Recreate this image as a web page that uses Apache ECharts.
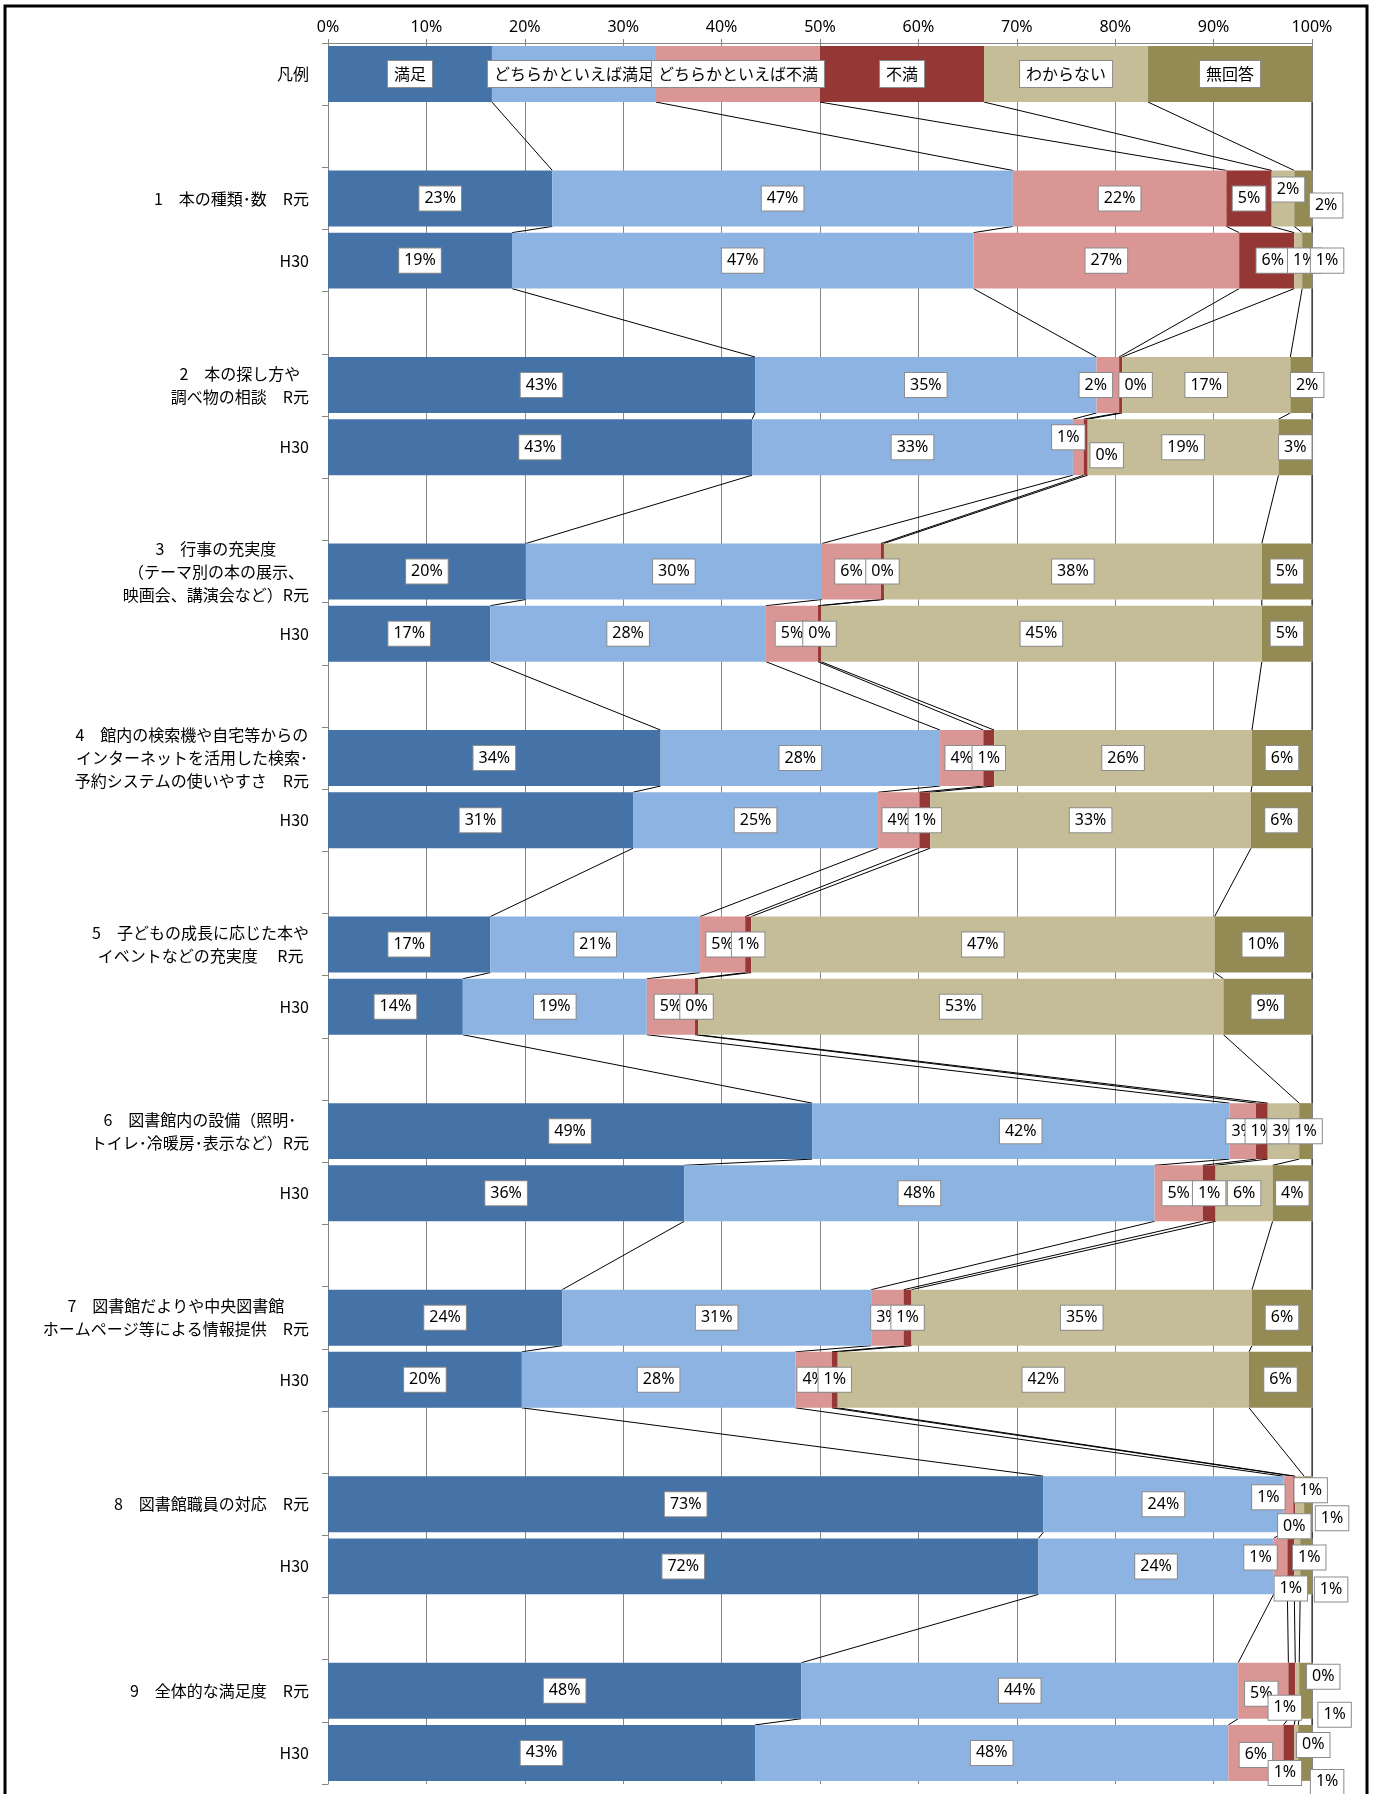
<!DOCTYPE html>
<html>
<head>
<meta charset="utf-8">
<script src="https://cdn.jsdelivr.net/npm/echarts@6/dist/echarts.min.js"></script>
<style>
  html, body { margin: 0; padding: 0; background: #fff; }
  #chart { width: 1376px; height: 1794px; }
</style>
</head>
<body>
<div id="chart"></div>
<script>
// 回答区分と色
const answerNames = ['満足', 'どちらかといえば満足', 'どちらかといえば不満', '不満', 'わからない', '無回答']
const answerColors = ['#4572A7', '#8DB3E2', '#DA9694', '#953735', '#C4BD97', '#948A54']

// 設問ラベル（R元の行）
const itemLabels = [
  '1　本の種類･数　R元',
  '2　本の探し方や\n調べ物の相談　R元',
  '3　行事の充実度\n（テーマ別の本の展示、\n映画会、講演会など）R元',
  '4　館内の検索機や自宅等からの\nインターネットを活用した検索･\n予約システムの使いやすさ　R元',
  '5　子どもの成長に応じた本や\nイベントなどの充実度　 R元',
  '6　図書館内の設備（照明･\nトイレ･冷暖房･表示など）R元',
  '7　図書館だよりや中央図書館\nホームページ等による情報提供　R元',
  '8　図書館職員の対応　R元',
  '9　全体的な満足度　R元'
]
const prevYearLabel = 'H30'
const legendLabel = '凡例'
const legendRow = [16.66, 16.67, 16.67, 16.67, 16.67, 16.66]

// 割合(%)  並び: 1 R元, 1 H30, 2 R元, 2 H30, ... 9 H30
const satisfied        = [22.8, 18.7, 43.4, 43.1, 20.1, 16.5, 33.8, 31.0, 16.5, 13.7, 49.2, 36.2, 23.8, 19.7, 72.7, 72.2, 48.1, 43.4]
const ratherSatisfied  = [46.8, 46.9, 34.7, 32.6, 30.1, 28.0, 28.4, 24.9, 21.3, 18.7, 42.4, 47.8, 31.4, 27.8, 24.4, 23.9, 44.4, 48.1]
const ratherUnsatisfied = [21.7, 27.0, 2.3, 1.1, 6.0, 5.3, 4.4, 4.2, 4.6, 4.9, 2.7, 4.9, 3.3, 3.7, 1.0, 1.4, 5.1, 5.6]
const unsatisfied      = [4.6, 5.6, 0.3, 0.4, 0.3, 0.3, 1.1, 1.1, 0.6, 0.3, 1.2, 1.3, 0.8, 0.6, 0.2, 0.7, 0.7, 1.1]
const unknown          = [2.3, 0.8, 17.1, 19.4, 38.4, 44.8, 26.2, 32.6, 47.1, 53.4, 3.2, 5.8, 34.6, 41.8, 0.9, 0.6, 0.4, 0.4]
const noAnswer         = [1.8, 1.0, 2.2, 3.4, 5.1, 5.1, 6.1, 6.2, 9.9, 9.0, 1.3, 4.0, 6.1, 6.4, 0.8, 1.2, 1.3, 1.4]
const answerValues = [satisfied, ratherSatisfied, ratherUnsatisfied, unsatisfied, unknown, noAnswer]

// 重なる小さいラベルのずらし（行: {系列: [dx, dy]}）
const labelShift = {
  '1R': { 4: [5, -9], 5: [23, 7] },
  '1H': { 3: [6, 0], 4: [6, 0], 5: [20, 0] },
  '2R': { 2: [-12, 0], 3: [15, 0], 5: [6, 0] },
  '2H': { 2: [-10, -10], 3: [21, 8] },
  '8R': { 2: [-20, -7], 3: [0, 22], 4: [11, -14], 5: [24, 14] },
  '8H': { 2: [-20, -9], 3: [0, 22], 4: [12, -9], 5: [25, 23] },
  '9R': { 2: [-2, 3], 3: [-7, 17], 4: [26, -14], 5: [29, 24] },
  '9H': { 2: [0, 2], 3: [-4, 20], 4: [17, -8], 5: [22, 29] }
}

// カテゴリ（空行で区切る）
const categories = [legendLabel, '']
const rowOf = []   // データ index -> カテゴリ index
itemLabels.forEach((label, k) => {
  rowOf.push(categories.length); categories.push(label)
  rowOf.push(categories.length); categories.push(prevYearLabel)
  if (k < itemLabels.length - 1) categories.push('')
})
const barRows = [0].concat(rowOf)

const shiftByRow = {}
Object.keys(labelShift).forEach(key => {
  const k = parseInt(key) - 1
  const row = rowOf[k * 2 + (key.endsWith('H') ? 1 : 0)]
  shiftByRow[row] = labelShift[key]
})

const labelFont = '"Noto Sans", "Noto Sans CJK JP", sans-serif'
const cjkFont = '"Noto Sans CJK JP", sans-serif'

const barSeries = answerNames.map((name, s) => {
  const data = categories.map(() => null)
  data[0] = { value: legendRow[s], label: { fontFamily: cjkFont, fontSize: 16, padding: [5, 6] } }
  answerValues[s].forEach((v, i) => {
    const row = rowOf[i]
    const shift = shiftByRow[row] && shiftByRow[row][s]
    data[row] = shift ? { value: v, label: { offset: shift } } : v
  })
  return {
    name,
    type: 'bar',
    stack: 'total',
    barCategoryGap: '10%',
    itemStyle: { color: answerColors[s] },
    label: {
      show: true,
      position: 'inside',
      color: '#000',
      fontSize: 16,
      fontFamily: labelFont,
      backgroundColor: '#fff',
      borderColor: '#8c8c8c',
      borderWidth: 1,
      padding: [4, 5],
      formatter: p => (p.dataIndex === 0 ? p.seriesName : Math.round(p.value) + '%')
    },
    data
  }
})

// 系列線（隣り合う棒の区切り位置を結ぶ）
const cumulative = {}
barRows.forEach(row => {
  let sum = 0
  cumulative[row] = answerNames.map((_, s) => {
    const d = barSeries[s].data[row]
    sum += typeof d === 'object' ? d.value : d
    return sum
  })
})
const connectorData = []
for (let r = 0; r < barRows.length - 1; r++) {
  const a = barRows[r], b = barRows[r + 1]
  answerNames.forEach((_, s) => {
    connectorData.push([Math.min(cumulative[a][s], 100), a, Math.min(cumulative[b][s], 100), b])
  })
}

const chart = echarts.init(document.getElementById('chart'))
chart.setOption({
  animation: false,
  backgroundColor: '#fff',
  graphic: [{
    type: 'rect',
    shape: { x: 5, y: 6, width: 1362, height: 1800 },
    style: { fill: 'none', stroke: '#000', lineWidth: 3 },
    z: 10
  }],
  grid: { left: 328, right: 64, top: 43, bottom: 10, outerBoundsMode: 'none' },
  xAxis: {
    type: 'value',
    position: 'top',
    min: 0,
    max: 100,
    interval: 10,
    axisLine: { show: true, lineStyle: { color: '#868686' } },
    axisTick: { show: true, length: 4, lineStyle: { color: '#868686' } },
    axisLabel: { formatter: '{value}%', color: '#000', fontSize: 16, fontFamily: labelFont, margin: 8 },
    splitLine: { show: true, lineStyle: { color: '#868686', width: 1 } }
  },
  yAxis: {
    type: 'category',
    inverse: true,
    data: categories,
    axisLine: { show: true, lineStyle: { color: '#868686' } },
    axisTick: { show: true, length: 6, interval: 0, lineStyle: { color: '#868686' } },
    axisLabel: {
      interval: 0,
      margin: 19,
      formatter: v => (v ? v.split('\n').map(l => '{c|' + l + '}').join('\n') : ''),
      rich: {
        c: { align: 'center', fontSize: 16, lineHeight: 23, color: '#000', fontFamily: cjkFont }
      }
    }
  },
  series: barSeries.concat([{
    type: 'custom',
    coordinateSystem: 'cartesian2d',
    encode: { x: [0, 2], y: [1, 3] },
    silent: true,
    renderItem: (params, api) => {
      const a = api.coord([api.value(0), api.value(1)])
      const b = api.coord([api.value(2), api.value(3)])
      const half = api.size([0, 1])[1] * 0.45
      return {
        type: 'line',
        shape: { x1: a[0], y1: a[1] + half, x2: b[0], y2: b[1] - half },
        style: { stroke: '#000', lineWidth: 1 }
      }
    },
    data: connectorData
  }])
})
</script>
</body>
</html>
